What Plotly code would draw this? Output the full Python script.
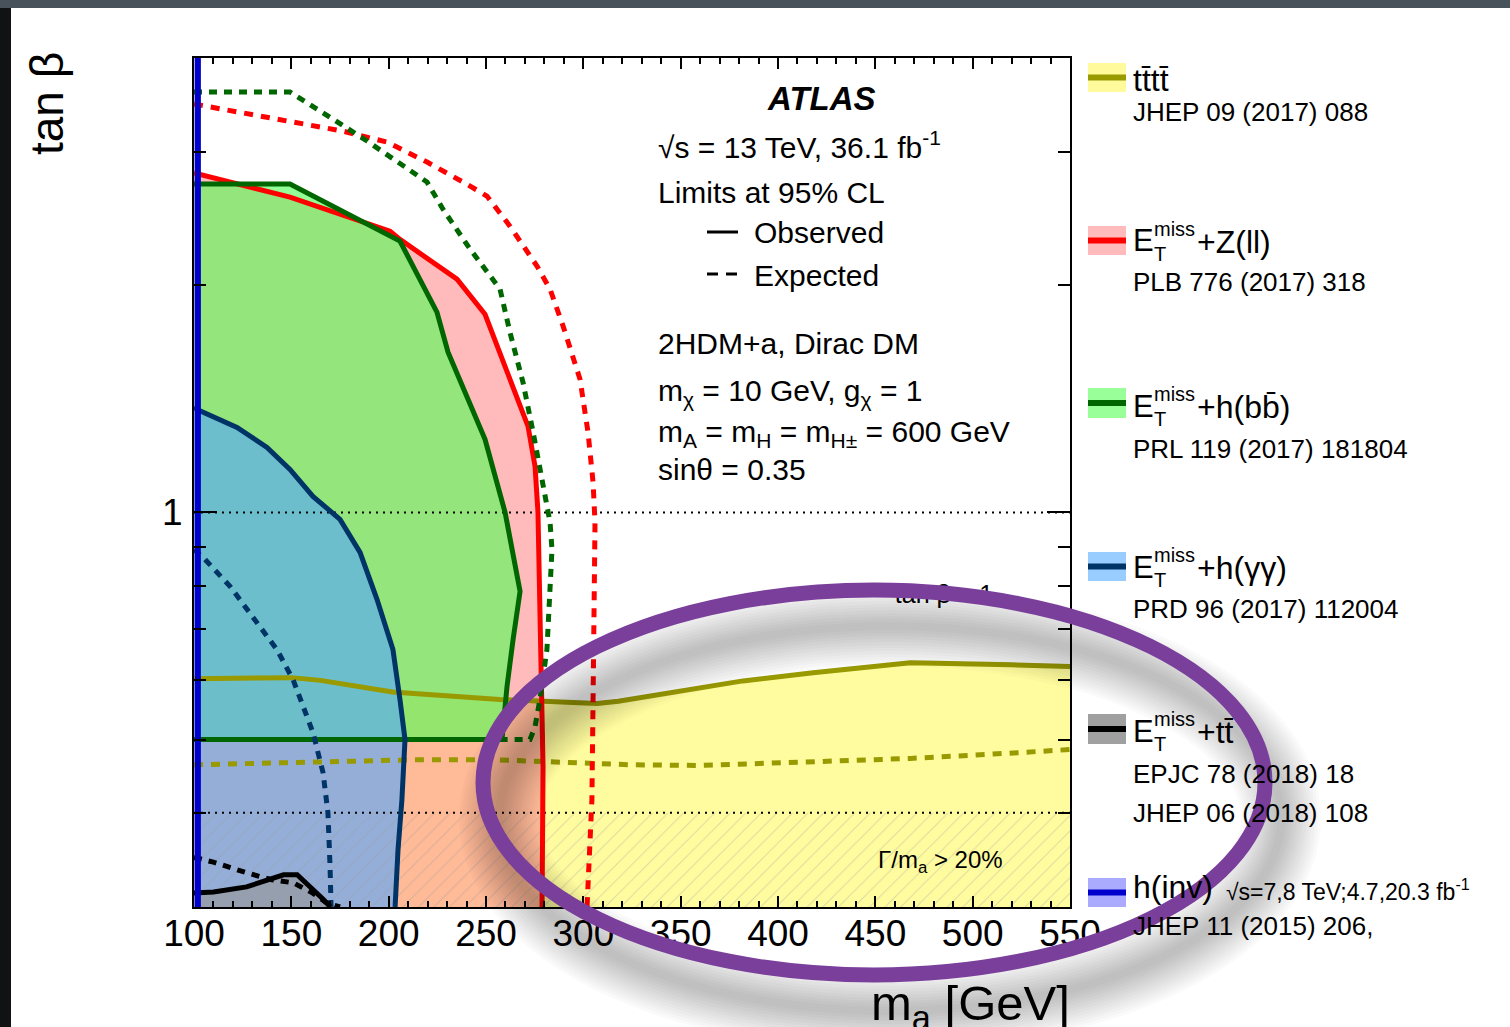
import math
import plotly.graph_objects as go

# ---------------- data ----------------
m_ticks = [100, 150, 200, 250, 300, 350, 400, 450, 500, 550]
y_major = [1]
y_minor = [0.4, 0.5, 0.6, 0.7, 0.8, 0.9, 2, 3]
ref_lines_tb = [1.0, 0.4]

# tt~tt~ (yellow)
tttt_obs_m = [100, 150, 165, 202, 257, 307, 318, 382, 418, 468, 520, 550]
tttt_obs_tb = [0.602, 0.604, 0.599, 0.578, 0.565, 0.558, 0.562, 0.598, 0.613, 0.632, 0.628, 0.625]
tttt_exp_m = [100, 161, 212.5, 255.6, 281.3, 324, 360, 411, 468, 521, 550]
tttt_exp_tb = [0.463, 0.466, 0.470, 0.470, 0.467, 0.463, 0.462, 0.466, 0.472, 0.480, 0.485]

# ETmiss + Z(ll) (red)
zll_obs_m = [100, 149.3, 200.7, 205.8, 235.1, 249.5, 271.6, 275.2, 276.7, 278.8, 279.3, 278.8]
zll_obs_tb = [2.816, 2.617, 2.358, 2.30, 2.037, 1.83, 1.30, 1.15, 1.0, 0.565, 0.46, 0.3]
zll_exp_m = [100, 144.2, 176.5, 199.1, 219.7, 238.2, 250.5, 262.3, 276.2, 282.9, 289.6, 298.3,
             302.4, 305, 306, 305, 304.4, 301.9]
zll_exp_tb = [3.476, 3.32, 3.20, 3.095, 2.912, 2.740, 2.625, 2.395, 2.120, 1.976, 1.765, 1.501,
              1.277, 1.096, 0.970, 0.565, 0.416, 0.30]

# ETmiss + h(bb) (green)
hbb_obs_m = [100, 149.3, 205.8, 224.8, 230.5, 249.5, 259.8, 263.9, 267.5, 263.9, 260.8, 258.2, 100]
hbb_obs_tb = [2.723, 2.723, 2.288, 1.842, 1.630, 1.250, 1.0, 0.885, 0.786, 0.678, 0.588, 0.5, 0.5]
hbb_exp_m = [100, 149.3, 171.4, 188.9, 219.7, 227.9, 241.8, 257.2, 262.3, 269, 274.2, 279.3,
             282.9, 283.9, 282.9, 281.3, 277.7, 275.2, 272.6, 257.2]
hbb_exp_tb = [3.606, 3.606, 3.32, 3.105, 2.740, 2.522, 2.233, 1.976, 1.733, 1.487, 1.277, 1.096,
              0.970, 0.893, 0.767, 0.658, 0.565, 0.520, 0.5, 0.5]

# ETmiss + h(gamma gamma) (blue)
hgg_obs_m = [100, 103.6, 122.1, 137.5, 149.3, 161.1, 175, 185.3, 194, 202.2, 205.8, 208.4, 206.8, 204.8, 203.3]
hgg_obs_tb = [1.378, 1.361, 1.296, 1.219, 1.140, 1.050, 0.979, 0.885, 0.767, 0.658, 0.565, 0.5, 0.416, 0.357, 0.3]
hgg_exp_m = [100, 105.7, 118.5, 132.4, 142.6, 150.9, 161.1, 166.3, 168.8, 169.9, 170.4]
hgg_exp_tb = [0.893, 0.866, 0.798, 0.715, 0.658, 0.600, 0.511, 0.452, 0.4, 0.339, 0.3]

# ETmiss + tt (black / grey)
tt_obs_m = [100, 110, 127, 146, 153, 160, 166.5, 170]
tt_obs_tb = [0.313, 0.314, 0.319, 0.331, 0.331, 0.319, 0.307, 0.300]
tt_exp_m = [100, 110, 127, 140, 151, 161, 168, 175]
tt_exp_tb = [0.349, 0.344, 0.333, 0.326, 0.323, 0.313, 0.304, 0.300]

# h(inv) limit
hinv_m = 102

X_MIN, X_MAX = 100, 550
Y_MIN, Y_MAX = 0.3, 4.0
wide_tb = 0.4   # Gamma/m_a > 20 % hatched region upper edge

FONT = "Liberation Sans, Arial, Helvetica, sans-serif"

# ---------------- layout geometry (pixels) ----------------
W, H = 1510, 1027
PL, PR, PT, PB = 194, 1070, 58, 907


def px(x, y):
    return (x - PL) / (PR - PL), (PB - y) / (PB - PT)


fig = go.Figure()


def fill(xs, ys, color):
    fig.add_trace(go.Scatter(x=xs, y=ys, fill="toself", fillcolor=color, mode="none",
                             hoverinfo="skip", showlegend=False))


def line(xs, ys, color, width=5, dash=None):
    fig.add_trace(go.Scatter(x=xs, y=ys, mode="lines", showlegend=False, hoverinfo="skip",
                             line=dict(color=color, width=width, dash=dash)))


# filled excluded regions (semi-transparent, ROOT-like)
fill(tttt_obs_m + [X_MAX, X_MIN], tttt_obs_tb + [Y_MIN, Y_MIN], "rgba(255,250,102,0.62)")
fill(zll_obs_m + [X_MIN], zll_obs_tb + [Y_MIN], "rgba(255,145,145,0.62)")
fill(hbb_obs_m, hbb_obs_tb, "rgba(82,255,85,0.62)")
fill(hgg_obs_m + [X_MIN], hgg_obs_tb + [Y_MIN], "rgba(84,167,255,0.62)")
fill(tt_obs_m + [X_MIN], tt_obs_tb + [Y_MIN], "rgba(150,150,150,0.62)")
fill([X_MIN, hinv_m, hinv_m, X_MIN], [Y_MIN, Y_MIN, Y_MAX, Y_MAX], "rgba(136,136,255,0.62)")

# hatched Gamma/m_a > 20% region
fig.add_trace(go.Scatter(x=[X_MIN, X_MAX, X_MAX, X_MIN], y=[Y_MIN, Y_MIN, wide_tb, wide_tb],
                         fill="toself", mode="none", fillcolor="rgba(0,0,0,0)", hoverinfo="skip",
                         showlegend=False,
                         fillpattern=dict(shape="/", size=11, solidity=0.09,
                                          fgcolor="rgba(150,150,150,0.7)", bgcolor="rgba(0,0,0,0)")))

# dotted reference lines
for tb in ref_lines_tb:
    line([X_MIN, X_MAX], [tb, tb], "black", width=2, dash="2px,5px")

# contours
line(tttt_obs_m, tttt_obs_tb, "#999900", 5)
line(tttt_exp_m, tttt_exp_tb, "#999900", 5, "9px,8px")
line(zll_obs_m, zll_obs_tb, "#ff0000", 5)
line(zll_exp_m, zll_exp_tb, "#ff0000", 5, "9px,8px")
line(hbb_obs_m, hbb_obs_tb, "#006600", 5)
line(hbb_exp_m, hbb_exp_tb, "#006600", 5, "8px,7px")
line(hgg_obs_m, hgg_obs_tb, "#003366", 5)
line(hgg_exp_m, hgg_exp_tb, "#003366", 5, "8px,7px")
line(tt_obs_m, tt_obs_tb, "#000000", 5)
line(tt_exp_m, tt_exp_tb, "#000000", 5, "8px,7px")
line([hinv_m, hinv_m], [Y_MIN, Y_MAX], "#0000cc", 6)

# text under the highlight ellipse
fig.add_trace(go.Scatter(x=[460], y=[0.772], mode="text", text=["tan β = 1"],
                         textposition="middle right", textfont=dict(family=FONT, size=25, color="black"),
                         hoverinfo="skip", showlegend=False))

# ---------------- annotations ----------------
anns = []


def ann(text, x, y, size, xanchor="left", yanchor="middle", **kw):
    ax, ay = px(x, y)
    anns.append(dict(text=text, x=ax, y=ay, xref="paper", yref="paper", showarrow=False,
                     xanchor=xanchor, yanchor=yanchor,
                     font=dict(family=FONT, size=size, color="black"), **kw))


ann("<b><i>ATLAS</i></b>", 821, 98, 33, xanchor="center")
ann("√s = 13 TeV, 36.1 fb<sup>-1</sup>", 656, 145, 30)
ann("Limits at 95% CL", 656, 192, 30)
ann("Observed", 752, 232, 30)
ann("Expected", 752, 275, 30)
ann("2HDM+a, Dirac DM", 656, 343, 30)
ann("m<sub>χ</sub> = 10 GeV, g<sub>χ</sub> = 1", 656, 392, 30)
ann("m<sub>A</sub> = m<sub>H</sub> = m<sub>H±</sub> = 600 GeV", 656, 433, 30)
ann("sinθ = 0.35", 656, 469, 30)
ann("Γ/m<sub>a</sub> > 20%", 876, 861, 24)

# axis titles
ann("m<sub>a</sub> [GeV]", 1072, 1006, 49, xanchor="right")
ann("tan β", 47, 104, 46, xanchor="center", textangle=-90)

# legend text
LX = 1131
ann("tt̄tt̄", LX, 80, 32)
ann("JHEP 09 (2017) 088", LX, 112, 26)


def etmiss(y, rest):
    ann("E", LX, y, 31)
    ann("miss", 1152, y - 12, 20)
    ann("T", 1152, y + 13, 20)
    ann(rest, 1195, y + 1, 32)


etmiss(241, "+Z(ll)")
ann("PLB 776 (2017) 318", LX, 282, 26)
etmiss(406, "+h(bb̄)")
ann("PRL 119 (2017) 181804", LX, 449, 26)
etmiss(567, "+h(γγ)")
ann("PRD 96 (2017) 112004", LX, 609, 26)
etmiss(731, "+tt̄")
ann("EPJC 78 (2018) 18", LX, 774, 26)
ann("JHEP 06 (2018) 108", LX, 813, 26)
ann("h(inv)", LX, 887, 32)
ann("√s=7,8 TeV;4.7,20.3 fb<sup>-1</sup>", 1224, 890, 23)
ann("JHEP 11 (2015) 206,", LX, 926, 26)

# ---------------- shapes ----------------
shapes = []


def rect(x0, y0, x1, y1, color, layer="above"):
    a0, b0 = px(x0, y1)
    a1, b1 = px(x1, y0)
    shapes.append(dict(type="rect", xref="paper", yref="paper", x0=a0, y0=b0, x1=a1, y1=b1,
                       fillcolor=color, line=dict(width=0), layer=layer))


def seg(x0, y0, x1, y1, color, width, dash=None):
    a0, b0 = px(x0, y0)
    a1, b1 = px(x1, y1)
    shapes.append(dict(type="line", xref="paper", yref="paper", x0=a0, y0=b0, x1=a1, y1=b1,
                       line=dict(color=color, width=width, dash=dash)))


# dark slide frame
rect(-5, -5, 11, H + 5, "#101214", "below")
rect(-5, -5, W + 5, 8, "#47525a", "below")

# key lines for observed / expected
seg(707, 232, 738, 232, "black", 3)
seg(707, 274, 738, 274, "black", 3, "11px,8px")

# legend swatches
swatches = [(63, 92, "#fffa9c", "#999900"), (226, 255, "#ffbbbb", "#ff0000"),
            (388, 418, "#99ff99", "#006600"), (552, 581, "#99ccff", "#003366"),
            (714, 744, "#a0a0a0", "#000000"), (878, 907, "#aaaaff", "#0000cc")]
for y0, y1, fc, lc in swatches:
    rect(1088, y0, 1126, y1, fc)
    seg(1088, (y0 + y1) / 2, 1126, (y0 + y1) / 2, lc, 6)

# highlight ellipse with soft drop shadow
EX0, EY0, EX1, EY1 = 483, 590, 1265, 975
SDX, SDY = 16, 36
for wdt in range(80, 4, -6):
    a0, b0 = px(EX0 + SDX, EY1 + SDY)
    a1, b1 = px(EX1 + SDX, EY0 + SDY)
    shapes.append(dict(type="circle", xref="paper", yref="paper", x0=a0, y0=b0, x1=a1, y1=b1,
                       line=dict(color="rgba(0,0,0,0.02)", width=wdt), fillcolor="rgba(0,0,0,0)"))
a0, b0 = px(EX0, EY1)
a1, b1 = px(EX1, EY0)
shapes.append(dict(type="circle", xref="paper", yref="paper", x0=a0, y0=b0, x1=a1, y1=b1,
                   line=dict(color="#7a3f9b", width=15), fillcolor="rgba(0,0,0,0)"))

fig.update_layout(
    width=W, height=H, autosize=False,
    margin=dict(l=PL, r=W - PR, t=PT, b=H - PB),
    paper_bgcolor="white", plot_bgcolor="white",
    font=dict(family=FONT, color="black"),
    showlegend=False,
    annotations=anns, shapes=shapes,
    xaxis=dict(range=[X_MIN, X_MAX], tickvals=m_ticks, ticks="inside", ticklen=11, tickwidth=2,
               tickcolor="black", showline=True, linewidth=2, linecolor="black", mirror="ticks",
               showgrid=False, zeroline=False, tickfont=dict(family=FONT, size=37),
               ticklabelstandoff=-7,
               minor=dict(dtick=10, ticks="inside", ticklen=6, tickwidth=2, tickcolor="black",
                          showgrid=False)),
    yaxis=dict(type="log", range=[math.log10(Y_MIN), math.log10(Y_MAX)], tickvals=y_major,
               ticktext=["1"], ticks="inside", ticklen=23, tickwidth=2, tickcolor="black",
               showline=True, linewidth=2, linecolor="black", mirror="ticks", showgrid=False,
               zeroline=False, tickfont=dict(family=FONT, size=37), ticklabelstandoff=2,
               minor=dict(tickvals=y_minor, ticks="inside", ticklen=12, tickwidth=2,
                          tickcolor="black", showgrid=False)),
)

fig.write_html("out.html", config={"displayModeBar": False},
               post_script="document.body.style.margin='0px';document.body.style.overflow='hidden';")
